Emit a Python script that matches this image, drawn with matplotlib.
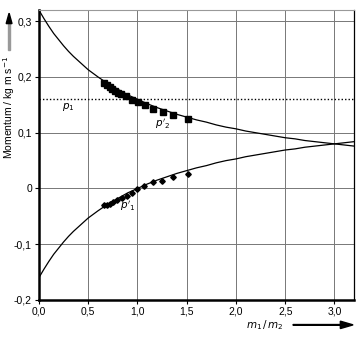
import matplotlib
matplotlib.use("Agg")
import matplotlib.pyplot as plt
from matplotlib.patches import FancyArrow
from matplotlib.ticker import FuncFormatter, MultipleLocator

plt.rcParams["font.family"] = ["Liberation Sans", "DejaVu Sans"]
plt.rcParams["mathtext.fontset"] = "dejavusans"

# Curves (mass ratio m1/m2 vs momentum)
ratio = [0.0, 0.05, 0.1, 0.15, 0.2, 0.25, 0.3, 0.35, 0.4, 0.45, 0.5, 0.6,
         0.7, 0.8, 0.9, 1.0, 1.1, 1.2, 1.3, 1.4, 1.5, 1.6, 1.7, 1.8, 1.9,
         2.0, 2.1, 2.2, 2.3, 2.4, 2.5, 2.6, 2.7, 2.8, 2.9, 3.0, 3.1, 3.2]
p2_curve = [0.320, 0.305, 0.291, 0.278, 0.267, 0.256, 0.246, 0.237, 0.229,
            0.221, 0.213, 0.200, 0.188, 0.178, 0.168, 0.160, 0.152, 0.145,
            0.139, 0.133, 0.128, 0.123, 0.119, 0.114, 0.110, 0.107, 0.103,
            0.100, 0.097, 0.094, 0.091, 0.089, 0.086, 0.084, 0.082, 0.080,
            0.078, 0.076]
p1_curve = [-0.160, -0.145, -0.131, -0.118, -0.107, -0.096, -0.086, -0.077,
            -0.069, -0.061, -0.053, -0.040, -0.028, -0.018, -0.008, 0.000,
            0.008, 0.015, 0.021, 0.027, 0.032, 0.037, 0.041, 0.046, 0.050,
            0.053, 0.057, 0.060, 0.063, 0.066, 0.069, 0.071, 0.074, 0.076,
            0.078, 0.080, 0.082, 0.084]

# Measured points
p2_x = [0.66, 0.69, 0.72, 0.74, 0.77, 0.80, 0.83, 0.88, 0.94, 1.01, 1.08,
        1.16, 1.26, 1.36, 1.51]
p2_y = [0.189, 0.186, 0.182, 0.178, 0.174, 0.172, 0.169, 0.166, 0.159, 0.156,
        0.149, 0.143, 0.138, 0.132, 0.124]
p1_x = [0.66, 0.69, 0.72, 0.75, 0.79, 0.84, 0.89, 0.94, 1.00, 1.07, 1.16,
        1.25, 1.36, 1.51]
p1_y = [-0.030, -0.029, -0.027, -0.024, -0.021, -0.018, -0.014, -0.009,
        -0.001, 0.004, 0.011, 0.0125, 0.020, 0.026]

p1_initial = 0.16


def comma(v, pos):
    if abs(v) < 1e-9:
        return "0"
    return f"{v:.1f}".replace(".", ",")


def comma_x(v, pos):
    return f"{v:.1f}".replace(".", ",")


fig = plt.figure(figsize=(3.64, 3.37), dpi=100)
ax = fig.add_axes([0.107, 0.110, 0.866, 0.860])

ax.plot(ratio, p2_curve, color="black", linewidth=0.9)
ax.plot(ratio, p1_curve, color="black", linewidth=0.9)
ax.axhline(p1_initial, color="black", linestyle=(0, (1, 1.5)), linewidth=1.0)
ax.plot(p2_x, p2_y, "s", color="black", markersize=4.0)
ax.plot(p1_x, p1_y, "D", color="black", markersize=2.8)

ax.text(0.23, 0.146, r"$p_1$", fontsize=7.5, ha="left", va="center")
ax.text(1.18, 0.116, r"$p'_2$", fontsize=7.5, ha="left", va="center")
ax.text(0.82, -0.031, r"$p'_1$", fontsize=7.5, ha="left", va="center")

ax.set_xlim(0, 3.2)
ax.set_ylim(-0.2, 0.32)
ax.xaxis.set_major_locator(MultipleLocator(0.5))
ax.yaxis.set_major_locator(MultipleLocator(0.1))
ax.xaxis.set_major_formatter(FuncFormatter(comma_x))
ax.yaxis.set_major_formatter(FuncFormatter(comma))
ax.tick_params(labelsize=7.5, length=3, width=0.8, pad=2)
ax.grid(True, color="#777777", linewidth=0.7)

for side in ("left", "bottom"):
    ax.spines[side].set_linewidth(1.8)
ax.spines["right"].set_linewidth(0.9)
ax.spines["top"].set_linewidth(0.8)
ax.spines["top"].set_color("#999999")

fig.text(0.025, 0.68, r"Momentum / kg m s$^{-1}$", rotation=90,
         ha="center", va="center", fontsize=7.5)
fig.text(0.728, 0.036, r"$m_1\,/\,m_2$", ha="center", va="center", fontsize=7.5)

# axis direction arrows (grey shaft, black head)
fig.add_artist(FancyArrow(0.025, 0.852, 0, 0.085, width=0.004,
                          head_width=0.0, head_length=0.0, color="#999999",
                          transform=fig.transFigure))
fig.add_artist(FancyArrow(0.025, 0.93, 0, 0.031, width=0.0, head_width=0.016,
                          head_length=0.031, length_includes_head=True,
                          color="black", transform=fig.transFigure))
fig.add_artist(FancyArrow(0.805, 0.036, 0.165, 0, width=0.002,
                          head_width=0.022, head_length=0.035,
                          length_includes_head=True, color="black",
                          transform=fig.transFigure))

fig.savefig("out.png", dpi=100)
